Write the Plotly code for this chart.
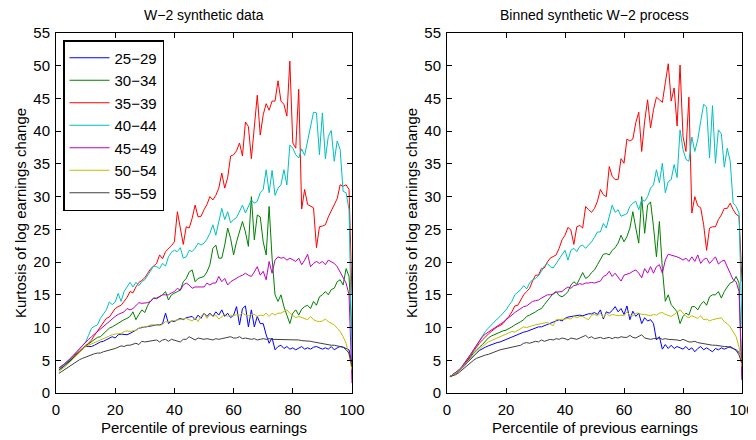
import plotly.graph_objects as go

percentile = list(range(1, 101))
age_groups = ["25\u221229", "30\u221234", "35\u221239", "40\u221244", "45\u221249", "50\u221254", "55\u221259"]
colors = ["#0000ff", "#008000", "#ff0000", "#00bfbf", "#bf00bf", "#bfbf00", "#404040"]

# ---- Left panel: W-2 synthetic data ----
left_25_29 = [3.5, 3.8, 4.2, 4.6, 5.0, 5.4, 5.8, 6.3, 6.7, 7.1,
              7.1, 7.1, 7.3, 7.6, 7.8, 7.9, 8.1, 8.3, 8.6, 8.4,
              8.9, 9.0, 9.0, 8.9, 9.1, 9.3, 9.6, 9.9, 10.0, 10.1,
              10.2, 10.3, 10.3, 10.4, 10.4, 10.6, 12.2, 10.6, 11.0, 10.9,
              11.2, 11.4, 11.2, 11.5, 11.6, 11.7, 11.2, 11.9, 11.4, 12.2,
              11.7, 12.2, 11.7, 12.4, 11.9, 12.7, 11.7, 12.2, 11.5, 11.9,
              13.2, 10.4, 12.9, 13.3, 10.1, 12.7, 10.1, 11.7, 10.6, 10.6,
              8.9, 7.6, 8.4, 6.6, 7.1, 7.3, 6.8, 7.1, 6.7, 6.9,
              6.6, 6.8, 7.1, 6.7, 6.9, 6.7, 7.0, 7.1, 6.9, 6.7,
              6.9, 6.7, 7.1, 6.6, 6.9, 7.1, 7.0, 6.8, 6.6, 4.5]
left_30_34 = [3.5, 3.9, 4.2, 4.6, 5.0, 5.5, 5.9, 6.4, 6.9, 7.3,
              7.5, 7.8, 8.2, 8.5, 8.6, 9.0, 9.4, 9.9, 10.1, 10.4,
              10.6, 11.0, 11.2, 11.4, 11.7, 12.4, 11.2, 12.0, 12.7, 12.3,
              13.4, 14.1, 14.5, 14.5, 14.8, 15.0, 15.5, 14.2, 15.0, 15.3,
              15.5, 15.7, 17.0, 17.5, 18.5, 18.8, 17.0, 17.5, 17.6, 17.8,
              18.5, 19.6, 22.1, 22.6, 20.6, 20.6, 22.6, 25.2, 23.6, 21.1,
              23.1, 24.5, 26.2, 24.6, 22.4, 30.0, 23.4, 27.2, 26.9, 23.1,
              21.1, 28.5, 20.6, 15.0, 14.0, 15.0, 13.2, 11.9, 10.6, 12.2,
              12.7, 11.9, 12.8, 13.2, 13.4, 12.9, 14.0, 13.4, 14.7, 15.0,
              15.5, 15.0, 15.8, 16.0, 17.0, 17.3, 16.5, 19.0, 17.8, 9.0]
left_35_39 = [3.8, 4.1, 4.5, 4.9, 5.3, 5.7, 6.1, 6.5, 6.8, 7.1,
              7.6, 8.1, 8.8, 9.5, 10.1, 10.8, 11.4, 11.6, 12.2, 12.9,
              13.2, 13.4, 14.0, 14.6, 15.5, 15.3, 16.2, 16.9, 17.2, 17.6,
              18.3, 19.0, 19.4, 19.8, 21.1, 20.5, 21.6, 22.0, 22.5, 23.1,
              27.7, 25.2, 22.7, 25.4, 25.2, 26.7, 28.7, 26.9, 27.0, 28.0,
              28.8, 30.0, 29.5, 30.2, 31.3, 33.6, 31.3, 32.9, 36.2, 36.4,
              37.0, 38.2, 36.2, 41.4, 40.7, 35.8, 40.2, 45.5, 39.4, 42.5,
              44.2, 43.2, 44.6, 44.6, 47.7, 44.6, 44.1, 42.3, 50.7, 38.2,
              37.4, 46.4, 28.1, 31.1, 28.8, 28.5, 28.3, 22.2, 25.4, 25.5,
              25.7, 26.9, 27.8, 28.7, 29.7, 31.8, 31.6, 31.8, 31.1, 15.0]
left_40_44 = [3.8, 4.1, 4.5, 4.9, 5.3, 5.8, 6.3, 6.8, 7.3, 7.8,
              8.8, 9.9, 10.2, 10.4, 11.4, 12.0, 12.7, 13.9, 13.5, 13.9,
              15.2, 14.0, 15.5, 16.2, 16.9, 16.2, 16.9, 16.4, 17.0, 17.3,
              18.0, 18.8, 19.4, 19.3, 19.0, 19.8, 19.4, 20.8, 21.5, 21.8,
              21.6, 22.2, 20.6, 20.8, 21.8, 21.6, 22.1, 22.9, 22.6, 22.9,
              23.5, 24.4, 25.7, 24.1, 26.2, 28.2, 26.5, 27.7, 26.0, 26.5,
              26.8, 27.8, 28.7, 27.5, 28.5, 29.5, 29.0, 29.3, 30.6, 31.1,
              34.1, 30.6, 34.0, 30.2, 31.3, 31.8, 34.1, 31.8, 37.9, 37.4,
              36.4, 35.9, 37.3, 36.3, 38.5, 41.0, 42.9, 42.8, 36.4, 42.8,
              35.8, 39.2, 40.1, 35.4, 38.5, 37.2, 30.8, 30.6, 28.0, 5.0]
left_45_49 = [3.8, 4.1, 4.5, 4.9, 5.3, 5.8, 6.3, 6.8, 7.3, 7.8,
              8.2, 8.6, 9.0, 9.4, 9.8, 10.2, 10.6, 11.0, 11.4, 11.7,
              12.0, 12.2, 12.4, 12.9, 12.7, 12.9, 13.4, 13.8, 13.7, 13.7,
              13.8, 14.0, 14.5, 14.4, 14.7, 15.0, 15.0, 15.0, 15.3, 15.5,
              16.0, 15.7, 16.5, 16.8, 16.5, 16.0, 16.2, 16.2, 16.1, 16.2,
              16.8, 16.5, 16.8, 16.8, 17.8, 17.0, 17.5, 16.5, 17.0, 17.3,
              17.5, 17.8, 18.0, 18.3, 18.0, 17.8, 18.5, 19.3, 18.0, 18.6,
              17.3, 20.1, 18.3, 20.3, 20.8, 20.6, 20.7, 20.3, 20.6, 20.4,
              20.1, 20.6, 19.6, 20.3, 21.2, 19.3, 19.8, 20.1, 19.8, 20.1,
              19.6, 20.3, 20.1, 19.8, 19.3, 18.5, 17.5, 16.8, 15.0, 1.5]
left_50_54 = [3.3, 3.6, 4.0, 4.4, 4.8, 5.3, 5.8, 6.3, 6.7, 7.1,
              7.3, 7.6, 7.8, 8.0, 8.2, 8.4, 8.6, 8.7, 8.9, 9.0,
              9.1, 9.1, 9.4, 9.5, 9.4, 9.5, 9.6, 9.9, 10.1, 10.0,
              10.2, 10.4, 10.4, 10.3, 10.3, 10.5, 10.9, 10.9, 11.0, 11.1,
              11.2, 11.3, 11.3, 11.4, 11.2, 11.0, 11.5, 10.9, 11.7, 12.2,
              11.4, 12.0, 11.7, 11.9, 11.3, 11.6, 12.0, 11.7, 11.9, 11.8,
              12.0, 11.9, 12.2, 11.9, 11.8, 12.0, 12.0, 11.7, 11.9, 11.8,
              12.2, 11.7, 12.2, 11.9, 12.2, 12.2, 12.4, 12.7, 12.2, 11.8,
              11.5, 11.7, 11.5, 11.4, 11.2, 11.7, 11.2, 11.0, 10.9, 11.0,
              11.3, 10.9, 10.7, 10.4, 9.9, 9.4, 8.6, 7.6, 5.8, 3.5]
left_55_59 = [3.0, 3.3, 3.6, 4.0, 4.3, 4.6, 4.9, 5.1, 5.3, 5.5,
              5.7, 5.9, 6.0, 6.1, 6.1, 6.3, 6.4, 6.5, 6.7, 6.8,
              7.0, 7.2, 7.1, 7.3, 7.3, 7.4, 7.6, 7.4, 7.9, 7.8,
              7.9, 7.9, 8.0, 8.1, 7.8, 8.1, 8.2, 7.9, 8.2, 8.1,
              8.0, 7.8, 8.2, 8.2, 8.6, 8.4, 8.1, 8.4, 8.3, 8.2,
              8.3, 8.2, 8.1, 8.3, 8.2, 8.3, 8.4, 8.5, 8.6, 8.4,
              8.4, 8.6, 8.3, 8.4, 8.3, 8.2, 8.3, 8.1, 8.2, 8.3,
              8.2, 8.3, 8.2, 8.2, 8.2, 8.2, 8.1, 8.2, 8.1, 8.2,
              8.1, 8.1, 8.0, 8.0, 7.9, 7.9, 7.8, 7.7, 7.6, 7.5,
              7.4, 7.4, 7.3, 7.3, 7.2, 7.2, 7.0, 6.6, 6.1, 4.0]

# ---- Right panel: Binned synthetic W-2 process ----
right_25_29 = [2.5, 2.7, 3.0, 3.3, 3.7, 4.2, 4.7, 5.2, 5.7, 6.1,
               6.5, 6.8, 7.0, 7.2, 7.4, 7.6, 7.7, 7.8, 8.0, 8.2,
               8.4, 8.5, 8.7, 9.0, 9.1, 9.3, 9.4, 9.6, 9.8, 9.9,
               10.1, 10.1, 10.3, 10.5, 10.7, 10.9, 11.1, 11.2, 11.0, 11.4,
               11.6, 11.7, 11.7, 11.8, 11.9, 11.8, 12.0, 12.1, 12.1, 12.3,
               12.0, 12.7, 11.3, 12.4, 12.2, 12.6, 13.2, 12.4, 12.9, 12.0,
               13.3, 11.2, 12.5, 11.7, 12.2, 10.6, 11.5, 11.0, 11.2, 10.6,
               8.1, 8.6, 6.7, 7.4, 6.8, 7.3, 6.8, 7.1, 6.9, 6.7,
               7.1, 6.6, 6.9, 6.3, 6.8, 7.1, 6.6, 6.9, 6.6, 6.3,
               6.8, 6.6, 6.9, 6.7, 6.9, 7.1, 6.8, 6.6, 6.2, 5.5]
right_30_34 = [2.5, 2.8, 3.1, 3.5, 3.9, 4.4, 4.9, 5.5, 6.1, 6.6,
               7.0, 7.4, 7.9, 8.4, 8.7, 8.9, 9.2, 9.4, 9.5, 9.6,
               9.8, 10.1, 10.4, 10.6, 10.9, 11.2, 11.7, 11.9, 12.1, 12.4,
               12.7, 12.9, 13.5, 14.1, 14.7, 15.2, 15.5, 14.9, 14.7, 15.0,
               15.5, 16.5, 17.0, 16.6, 17.5, 18.4, 17.5, 17.8, 18.4, 18.8,
               19.6, 20.3, 21.2, 21.3, 21.1, 21.8, 22.2, 22.9, 24.1, 23.1,
               23.9, 25.2, 27.7, 25.2, 22.9, 30.0, 24.4, 28.7, 29.2, 25.4,
               20.8, 26.2, 19.0, 14.0, 15.0, 13.5, 12.9, 12.4, 10.6, 11.7,
               12.2, 11.9, 13.2, 13.2, 12.7, 13.5, 14.0, 13.4, 14.7, 15.0,
               15.0, 15.5, 14.5, 15.5, 16.2, 16.8, 17.0, 17.8, 16.8, 2.0]
right_35_39 = [2.5, 2.7, 3.0, 3.4, 3.8, 4.4, 5.0, 5.7, 6.4, 7.1,
               7.6, 8.1, 8.6, 9.0, 9.4, 9.8, 10.1, 10.3, 10.6, 11.2,
               11.7, 12.4, 13.3, 13.4, 14.3, 15.0, 15.5, 16.0, 17.1, 18.0,
               18.0, 19.0, 19.1, 20.0, 20.6, 20.8, 21.1, 22.1, 23.4, 24.1,
               25.3, 24.9, 22.7, 25.4, 25.6, 25.2, 28.5, 28.0, 27.6, 28.2,
               29.3, 31.1, 30.3, 30.0, 34.6, 33.1, 32.6, 32.6, 35.8, 35.1,
               38.8, 38.5, 38.8, 41.3, 42.9, 36.9, 41.5, 44.8, 40.5, 43.3,
               45.2, 44.8, 44.4, 47.4, 50.3, 44.6, 46.6, 40.8, 50.1, 39.2,
               36.9, 45.2, 27.5, 30.0, 28.6, 28.3, 25.7, 21.8, 25.2, 25.4,
               25.4, 26.5, 27.2, 28.2, 28.2, 29.0, 28.0, 27.3, 27.0, 17.0]
right_40_44 = [2.5, 2.8, 3.1, 3.5, 4.0, 4.6, 5.2, 5.9, 6.6, 7.3,
               8.1, 8.9, 9.4, 9.9, 10.4, 10.9, 11.3, 11.7, 12.2, 12.7,
               13.4, 14.0, 15.0, 15.4, 15.8, 16.4, 15.9, 16.8, 17.3, 17.5,
               17.9, 18.6, 19.4, 19.8, 19.3, 19.1, 19.8, 20.5, 21.1, 21.8,
               20.3, 21.8, 22.1, 21.6, 22.4, 22.6, 22.1, 22.6, 23.1, 23.8,
               24.6, 24.6, 25.9, 25.2, 26.8, 28.7, 27.6, 28.0, 27.0, 27.2,
               27.4, 28.5, 29.0, 29.3, 28.0, 29.5, 29.3, 30.0, 31.3, 31.8,
               34.1, 32.1, 35.1, 30.6, 32.3, 32.6, 34.9, 32.9, 40.2, 37.2,
               35.7, 35.4, 39.1, 36.9, 38.7, 41.5, 44.1, 43.7, 35.9, 43.9,
               35.1, 40.2, 39.6, 34.5, 37.4, 35.4, 29.0, 28.5, 27.5, 10.0]
right_45_49 = [2.5, 2.8, 3.1, 3.5, 4.0, 4.6, 5.2, 5.9, 6.6, 7.3,
               8.0, 8.6, 9.0, 9.3, 9.6, 9.9, 10.2, 10.4, 10.8, 11.2,
               11.5, 11.9, 12.3, 12.6, 12.8, 13.2, 13.3, 13.6, 14.0, 14.1,
               14.2, 14.5, 14.7, 15.0, 15.0, 15.1, 15.4, 15.5, 15.5, 15.9,
               16.2, 16.0, 16.4, 16.5, 16.7, 16.6, 16.8, 16.8, 16.9, 16.8,
               16.9, 17.1, 17.8, 18.0, 18.6, 17.8, 18.3, 17.6, 17.1, 18.0,
               18.1, 18.3, 18.6, 18.8, 18.3, 17.6, 19.0, 18.3, 19.3, 18.3,
               19.3, 19.6, 18.3, 20.3, 21.2, 21.1, 21.0, 20.8, 20.6, 20.3,
               20.6, 20.1, 20.8, 20.1, 21.1, 19.8, 20.4, 20.6, 19.8, 20.3,
               20.8, 19.7, 20.1, 20.3, 19.3, 18.5, 17.3, 17.0, 15.5, 2.0]
right_50_54 = [2.5, 2.7, 3.0, 3.4, 3.8, 4.3, 4.8, 5.3, 5.8, 6.3,
               6.7, 7.1, 7.5, 7.8, 8.0, 8.2, 8.4, 8.6, 8.8, 8.9,
               9.2, 9.4, 9.3, 9.6, 9.9, 10.1, 10.0, 10.2, 10.3, 10.4,
               10.5, 10.6, 10.6, 10.8, 10.5, 10.3, 11.2, 11.2, 11.3, 11.3,
               11.4, 11.3, 11.7, 11.5, 11.7, 11.7, 11.4, 11.2, 11.9, 12.0,
               11.8, 12.2, 11.5, 12.2, 11.8, 12.0, 11.9, 11.8, 11.9, 11.8,
               12.4, 11.9, 11.8, 12.2, 12.2, 12.0, 12.0, 11.9, 11.8, 12.0,
               11.9, 12.2, 12.3, 12.0, 11.8, 11.7, 12.0, 12.4, 12.7, 12.2,
               11.7, 11.5, 11.8, 11.6, 11.4, 11.8, 11.2, 11.3, 11.0, 11.2,
               11.3, 11.4, 11.5, 10.9, 10.6, 10.1, 9.4, 8.6, 7.0, 4.0]
right_55_59 = [2.5, 2.6, 2.8, 3.1, 3.5, 3.9, 4.3, 4.7, 5.0, 5.3,
               5.5, 5.7, 5.8, 5.9, 6.1, 6.3, 6.4, 6.6, 6.7, 6.8,
               7.0, 7.1, 7.2, 7.3, 7.3, 7.6, 7.7, 7.6, 7.8, 7.9,
               7.8, 8.1, 7.9, 8.1, 8.2, 8.1, 8.3, 8.2, 8.4, 8.3,
               8.1, 8.4, 8.3, 8.2, 8.4, 8.6, 8.8, 8.4, 8.6, 8.3,
               8.4, 8.5, 8.3, 8.4, 8.5, 8.3, 8.5, 8.4, 8.6, 8.5,
               8.5, 8.8, 8.5, 8.4, 8.6, 8.9, 8.4, 8.3, 8.2, 8.3,
               8.3, 8.4, 8.2, 8.3, 8.2, 8.2, 8.1, 8.1, 8.0, 8.2,
               8.0, 7.8, 7.8, 7.9, 7.7, 7.6, 7.6, 7.5, 7.4, 7.3,
               7.3, 7.2, 7.2, 7.1, 7.1, 7.0, 6.8, 6.5, 5.8, 4.5]

left_series = [left_25_29, left_30_34, left_35_39, left_40_44, left_45_49, left_50_54, left_55_59]
right_series = [right_25_29, right_30_34, right_35_39, right_40_44, right_45_49, right_50_54, right_55_59]

x_ticks = [0, 20, 40, 60, 80, 100]
y_ticks = [0, 5, 10, 15, 20, 25, 30, 35, 40, 45, 50, 55]

FONT = "Liberation Sans, Arial, Helvetica, sans-serif"

fig = go.Figure()
for name, col, ys in zip(age_groups, colors, left_series):
    fig.add_trace(go.Scatter(x=percentile, y=ys, mode="lines", name=name,
                             line=dict(color=col, width=1), xaxis="x", yaxis="y"))
for name, col, ys in zip(age_groups, colors, right_series):
    fig.add_trace(go.Scatter(x=percentile, y=ys, mode="lines", name=name, showlegend=False,
                             line=dict(color=col, width=1), xaxis="x2", yaxis="y2"))

# page body has an 8px margin, so the figure is drawn 8px in from the window corner
OFF = 8
W, H = 756, 440
L1, R1 = 56 - OFF, 352 - OFF
L2, R2 = 447 - OFF, 742 - OFF
TOP, BOT = 33 - OFF, 393 - OFF

def xd(a, b):
    return [a / W, b / W]

ydom = [(H - BOT) / H, (H - TOP) / H]

axis_common = dict(showline=True, linecolor="black", linewidth=1, mirror="ticks",
                   ticks="inside", ticklen=5, tickcolor="black", showgrid=False,
                   zeroline=False, automargin=False,
                   tickfont=dict(family=FONT, size=15, color="black"))

fig.update_layout(
    template="none",
    width=W, height=H,
    margin=dict(l=0, r=0, t=0, b=0, pad=0),
    paper_bgcolor="white", plot_bgcolor="white",
    font=dict(family=FONT, size=15, color="black"),
    showlegend=True,
    legend=dict(x=(63 - OFF) / W, y=(H - (40 - OFF)) / H, xanchor="left", yanchor="top",
                bordercolor="black", borderwidth=1.5, bgcolor="white",
                font=dict(family=FONT, size=15, color="black"),
                tracegroupgap=0, itemwidth=40),
    xaxis=dict(domain=xd(L1, R1), range=[0, 100], tickvals=x_ticks, anchor="y",
               ticklabelstandoff=3, **axis_common),
    yaxis=dict(domain=ydom, range=[0, 55], tickvals=y_ticks, anchor="x",
               ticklabelstandoff=2, **axis_common),
    xaxis2=dict(domain=xd(L2, R2), range=[0, 100], tickvals=x_ticks, anchor="y2",
                ticklabelstandoff=3, **axis_common),
    yaxis2=dict(domain=ydom, range=[0, 55], tickvals=y_ticks, anchor="x2",
                ticklabelstandoff=2, **axis_common),
)

TITLE_Y = 15 - OFF
annots = [
    dict(text="W\u22122 synthetic data", x=(L1 + R1) / 2 / W, y=(H - TITLE_Y) / H, size=14),
    dict(text="Binned synthetic W\u22122 process", x=(L2 + R2) / 2 / W, y=(H - TITLE_Y) / H, size=14),
    dict(text="Percentile of previous earnings", x=(L1 + R1) / 2 / W, y=(H - (427 - OFF)) / H, size=15),
    dict(text="Percentile of previous earnings", x=(L2 + R2) / 2 / W, y=(H - (427 - OFF)) / H, size=15),
    dict(text="Kurtosis of log earnings change", x=(20 - OFF) / W, y=(H - (TOP + BOT) / 2) / H, textangle=-90, size=15),
    dict(text="Kurtosis of log earnings change", x=(411 - OFF) / W, y=(H - (TOP + BOT) / 2) / H, textangle=-90, size=15),
]
for a in annots:
    sz = a.pop("size")
    fig.add_annotation(xref="paper", yref="paper", showarrow=False,
                       xanchor="center", yanchor="middle",
                       font=dict(family=FONT, size=sz, color="black"), **a)

fig.write_html("out.html")
